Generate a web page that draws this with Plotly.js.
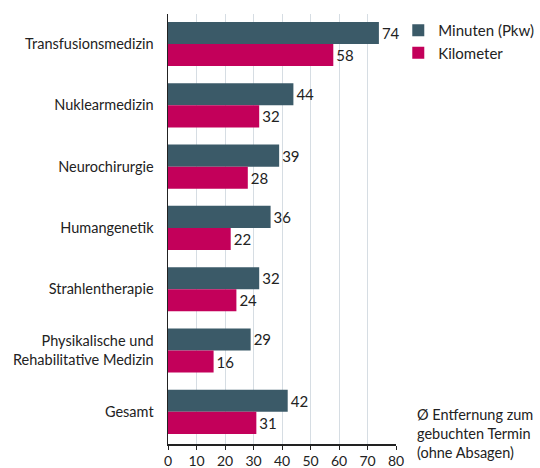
<!DOCTYPE html>
<html>
<head>
<meta charset="utf-8">
<script src="https://cdn.plot.ly/plotly-3.0.1.min.js"></script>
<style>html,body{margin:0;padding:0;background:#fff;}#chart{width:540px;height:468px;}</style>
</head>
<body>
<div id="chart"></div>
<script>
const categories = ["Transfusionsmedizin", "Nuklearmedizin", "Neurochirurgie", "Humangenetik", "Strahlentherapie", "Physikalische und<br>Rehabilitative Medizin", "Gesamt"];
const minuten = [74, 44, 39, 36, 32, 29, 42];
const kilometer = [58, 32, 28, 22, 24, 16, 31];
const seriesNames = ["Minuten (Pkw)", "Kilometer"];
const tickVals = [0, 10, 20, 30, 40, 50, 60, 70, 80];

const font = "Lato, 'Open Sans', sans-serif";
const traces = [
  {type: "bar", orientation: "h", name: seriesNames[0], y: categories, x: minuten,
   marker: {color: "#3b5a68"}, text: minuten.map(String), textposition: "outside",
   textfont: {size: 15, color: "#222"}, cliponaxis: false},
  {type: "bar", orientation: "h", name: seriesNames[1], y: categories, x: kilometer,
   marker: {color: "#c3005a"}, text: kilometer.map(String), textposition: "outside",
   textfont: {size: 15, color: "#222"}, cliponaxis: false}
];
const layout = {
  width: 540, height: 468,
  margin: {l: 168, r: 144, t: 14, b: 24, autoexpand: false},
  paper_bgcolor: "#fff", plot_bgcolor: "#fff",
  font: {family: font, size: 14, color: "#222"},
  barmode: "group", bargap: 0.28, bargroupgap: 0,
  xaxis: {range: [0, 80], tickvals: tickVals, ticks: "outside", ticklen: 4, tickcolor: "#222",
    showline: true, linecolor: "#222", linewidth: 1.5, showgrid: true, gridcolor: "#d6dde3",
    zeroline: false, tickfont: {size: 14}, automargin: false},
  yaxis: {type: "category", range: [6.525, -0.49], showline: true, linecolor: "#222", linewidth: 1.5,
    ticks: "", ticklabelstandoff: 10, tickfont: {size: 14.5}, showgrid: false, automargin: false},
  legend: {x: 1.01, y: 1.0, xanchor: "left", yanchor: "top", traceorder: "normal",
    font: {size: 15}, itemwidth: 30, tracegroupgap: 0, bgcolor: "rgba(0,0,0,0)"},
  annotations: [{xref: "paper", yref: "paper", x: 1.083, y: -0.045, xanchor: "left", yanchor: "bottom",
    align: "left", showarrow: false, text: "Ø Entfernung zum<br>gebuchten Termin<br>(ohne Absagen)",
    font: {size: 14.5, color: "#222"}}]
};
Plotly.newPlot("chart", traces, layout, {displayModeBar: false, staticPlot: true});
</script>
</body>
</html>
